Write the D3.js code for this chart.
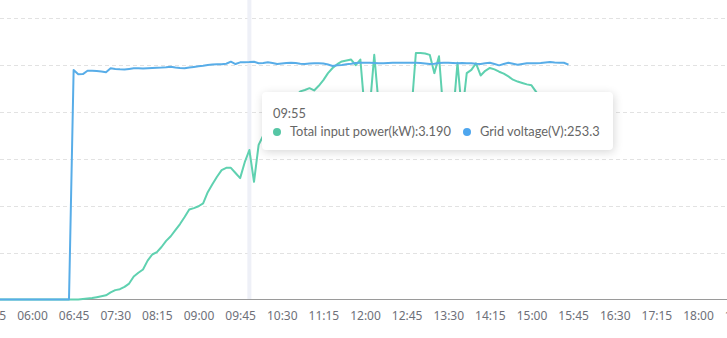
<!DOCTYPE html>
<html>
<head>
<meta charset="utf-8">
<script src="https://cdn.jsdelivr.net/npm/d3@7"></script>
<style>
  body { margin: 0; background: #fff; }
  #chart { position: relative; width: 727px; height: 338px; overflow: hidden; }
  .tip {
    position: absolute; box-sizing: border-box;
    background: #fff; border-radius: 4px;
    box-shadow: 1px 2px 10px rgba(0, 0, 0, 0.16);
    padding: 12px 10px 10px 11px;
    font-family: Lato, sans-serif; font-size: 14px; color: #666;
    white-space: nowrap;
  }
  .tip div { line-height: 18px; }
  .tip .dot { display: inline-block; width: 8px; height: 8px; border-radius: 50%; margin-right: 9px; vertical-align: 0px; }
  .tip .gap { margin-left: 12px; }
</style>
</head>
<body>
<div id="chart"></div>
<script>
// category axis: one point every 5 minutes, first one at 05:20
const startTime = '05:20'
const stepMinutes = 5

const tickLabels = ['05:15', '06:00', '06:45', '07:30', '08:15', '09:00', '09:45', '10:30', '11:15',
  '12:00', '12:45', '13:30', '14:15', '15:00', '15:45', '16:30', '17:15', '18:00', '18:45']

// Total input power (kW)
const power = [
  0, 0, 0, 0, 0, 0, 0, 0, 0, 0, 0, 0, 0, 0, 0, 0, 0, 0,
  0.00, 0.01, 0.02, 0.03, 0.05, 0.07, 0.09, 0.15, 0.20,
  0.22, 0.27, 0.34, 0.49, 0.57, 0.64, 0.83, 0.96, 1.01,
  1.12, 1.25, 1.35, 1.48, 1.61, 1.76, 1.92, 1.95, 1.99,
  2.05, 2.29, 2.46, 2.62, 2.76, 2.81, 2.81, 2.70, 2.59,
  2.93, 3.19, 2.51, 3.30, 3.50, 3.70, 3.85, 3.98, 4.08,
  4.18, 4.27, 4.34, 4.44, 4.47, 4.51, 4.46, 4.56, 4.68,
  4.83, 4.94, 5.02, 5.08, 5.10, 5.12, 5.00, 5.12, 3.95,
  4.05, 5.22, 4.10, 4.02, 3.86, 4.10, 3.95, 4.15, 4.05,
  3.98, 5.26, 5.26, 5.25, 5.22, 4.83, 5.19, 3.92, 4.00,
  3.88, 5.05, 3.95, 4.83, 4.90, 5.04, 4.78, 4.88, 4.94,
  4.91, 4.86, 4.82, 4.76, 4.69, 4.65, 4.62, 4.59, 4.57,
  4.43, 4.28, 4.12, 3.98, 3.82, 3.68, 3.52, 3.40
]

// Grid voltage (V)
const voltage = [
  0, 0, 0, 0, 0, 0, 0, 0, 0, 0, 0, 0, 0, 0, 0, 0, 0,
  244.8, 240.2, 240.5, 244.0, 244.1, 243.8, 243.2, 242.5, 246.6,
  246.0, 245.6, 245.5, 246.0, 246.6, 246.6, 246.4, 246.8, 247.0,
  247.2, 247.4, 247.8, 248.4, 247.4, 246.9, 246.6, 247.5, 248.1,
  248.8, 249.4, 250.2, 250.8, 250.9, 250.9, 251.5, 253.7, 251.2,
  253.0, 253.2, 253.3, 253.7, 252.1, 252.3, 253.0, 252.3, 251.2,
  251.8, 252.3, 252.6, 252.3, 251.5, 251.2, 251.8, 252.0, 252.0,
  251.8, 250.7, 249.1, 249.8, 250.2, 250.9, 251.5, 252.3, 252.6,
  252.6, 252.6, 252.3, 252.0, 252.0, 252.3, 252.6, 252.6, 252.6,
  252.6, 252.6, 252.6, 252.3, 251.8, 251.2, 251.5, 252.3, 252.6,
  252.6, 252.3, 252.0, 252.3, 252.0, 252.0, 251.5, 251.2, 252.0,
  252.6, 251.2, 249.8, 251.2, 252.6, 251.5, 250.5, 251.2, 252.0,
  252.0, 252.0, 252.3, 252.8, 253.4, 252.8, 252.6, 252.6, 250.5
]

const powerTicks = [1, 2, 3, 4, 5, 6]
const hoverTime = '09:55'

const width = 727
const height = 338
const colors = { power: '#5fd1b0', voltage: '#58ade8', powerDot: '#56c6a5', voltageDot: '#4ea6ee' }

const toMin = s => { const [h, m] = s.split(':').map(Number); return h * 60 + m }
const fmt = m => `${String(Math.floor(m / 60)).padStart(2, '0')}:${String(m % 60).padStart(2, '0')}`
const t0 = toMin(startTime)
const times = d3.range(Math.max(power.length, voltage.length)).map(i => t0 + i * stepMinutes)

const x = d3.scaleLinear().domain([toMin('06:00'), toMin('18:00')]).range([32, 698])
const yP = d3.scaleLinear().domain([0, 6]).range([299.5, 18.3])
const yV = d3.scaleLinear().domain([0, 300]).range([299.5, 18.3])

const root = d3.select('#chart')
const svg = root.append('svg').attr('width', width).attr('height', height)

// split lines
svg.append('g')
  .selectAll('line')
  .data(powerTicks)
  .enter().append('line')
    .attr('x1', 0).attr('x2', width)
    .attr('y1', d => Math.round(yP(d)) + 0.5).attr('y2', d => Math.round(yP(d)) + 0.5)
    .attr('stroke', '#e2e2e2')
    .attr('stroke-dasharray', '4,3')

// axis pointer
const hoverIdx = times.indexOf(toMin(hoverTime))
svg.append('rect')
  .attr('x', x(times[hoverIdx]) - 2).attr('y', 0)
  .attr('width', 4).attr('height', yP(0))
  .attr('fill', '#eef0f7')

// x axis
const xAxis = d3.axisBottom(x)
  .tickValues(tickLabels.map(toMin))
  .tickFormat(fmt)
  .tickSize(0)
  .tickPadding(12)
const gx = svg.append('g').attr('transform', `translate(0,${Math.round(yP(0)) - 0.5})`).call(xAxis)
gx.select('.domain').attr('stroke', '#9a9a9a').attr('d', `M0,0H${width}`)
gx.selectAll('text')
  .attr('fill', '#6e7079')
  .style('font-family', '"Noto Sans", sans-serif')
  .style('font-size', '12px')

const powerLine = d3.line().x((d, i) => x(times[i])).y(d => yP(d))
const voltageLine = d3.line().x((d, i) => x(times[i])).y(d => yV(d))

svg.append('path')
  .datum(power)
  .attr('d', powerLine)
  .attr('fill', 'none')
  .attr('stroke', colors.power)
  .attr('stroke-width', 2)
  .attr('stroke-linejoin', 'round')

svg.append('path')
  .datum(voltage)
  .attr('d', voltageLine)
  .attr('fill', 'none')
  .attr('stroke', colors.voltage)
  .attr('stroke-width', 2)
  .attr('stroke-linejoin', 'round')

// tooltip
const tip = root.append('div').attr('class', 'tip')
  .style('left', '262px').style('top', '92px')
  .style('width', '351px').style('height', '58px')
tip.append('div').text(fmt(times[hoverIdx]))
const row = tip.append('div')
row.append('span').attr('class', 'dot').style('background', colors.powerDot)
const powerText = row.append('span').text(`Total input power(kW):${power[hoverIdx].toFixed(3)}`)
row.append('span').attr('class', 'dot gap').style('background', colors.voltageDot)
row.append('span').text(`Grid voltage(V):${voltage[hoverIdx].toFixed(1)}`)

// fit the font so the first entry is as wide as in the original (~161px)
const w = powerText.node().getBoundingClientRect().width
tip.style('font-size', `${(14 * 161 / w).toFixed(2)}px`)
</script>
</body>
</html>
